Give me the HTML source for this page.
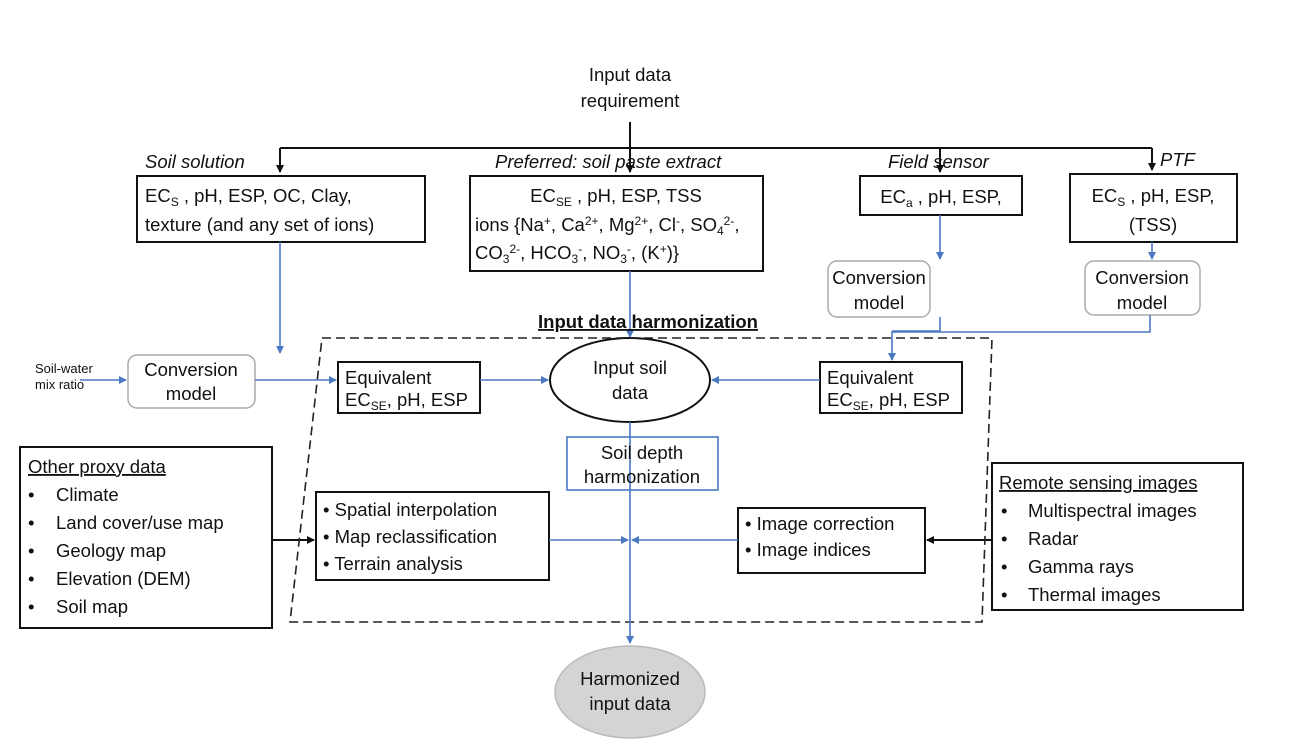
<!DOCTYPE html>
<html><head><meta charset="utf-8"><style>
html,body{margin:0;padding:0;background:#fff;}
svg{display:block;}
text{font-family:"Liberation Sans",sans-serif;font-size:18.5px;fill:#111;}
.it{font-style:italic;}
.sm{font-size:13px;}
.sub{font-size:12px;}
</style></head><body>
<svg width="1295" height="752" viewBox="0 0 1295 752" xmlns="http://www.w3.org/2000/svg">
<defs>
<marker id="ak" markerWidth="8" markerHeight="8" refX="7" refY="4" orient="auto" markerUnits="userSpaceOnUse"><path d="M0,0 L8,4 L0,8 z" fill="#111"/></marker>
<marker id="ab" markerWidth="8" markerHeight="8" refX="7" refY="4" orient="auto" markerUnits="userSpaceOnUse"><path d="M0,0 L8,4 L0,8 z" fill="#4a78c2"/></marker>
</defs>
<g fill="none" stroke="#111" stroke-width="2">
<line x1="630" y1="122" x2="630" y2="148"/>
<line x1="280" y1="148" x2="1152" y2="148"/>
<line x1="280" y1="148" x2="280" y2="172" marker-end="url(#ak)"/>
<line x1="630" y1="148" x2="630" y2="172" marker-end="url(#ak)"/>
<line x1="940" y1="148" x2="940" y2="172" marker-end="url(#ak)"/>
<line x1="1152" y1="148" x2="1152" y2="170" marker-end="url(#ak)"/>
<rect x="137" y="176" width="288" height="66"/>
<rect x="470" y="176" width="293" height="95"/>
<rect x="860" y="176" width="162" height="39"/>
<rect x="1070" y="174" width="167" height="68"/>
<rect x="338" y="362" width="142" height="51"/>
<rect x="820" y="362" width="142" height="51"/>
<ellipse cx="630" cy="380" rx="80" ry="42"/>
<rect x="316" y="492" width="233" height="88"/>
<rect x="738" y="508" width="187" height="65"/>
<rect x="20" y="447" width="252" height="181"/>
<rect x="992" y="463" width="251" height="147"/>
<line x1="272" y1="540" x2="314" y2="540" marker-end="url(#ak)"/>
<line x1="992" y1="540" x2="927" y2="540" marker-end="url(#ak)"/>
</g>
<g fill="none" stroke="#aaa" stroke-width="1.5">
<rect x="128" y="355" width="127" height="53" rx="9"/>
<rect x="828" y="261" width="102" height="56" rx="9"/>
<rect x="1085" y="261" width="115" height="54" rx="9"/>
</g>
<path d="M322,338 L992,338 L982,622 L290,622 Z" fill="none" stroke="#222" stroke-width="1.6" stroke-dasharray="9,5"/>
<g fill="none" stroke="#4a78c2" stroke-width="1.6">
<rect x="567" y="437" width="151" height="53"/>
<line x1="280" y1="242" x2="280" y2="353" marker-end="url(#ab)"/>
<line x1="630" y1="271" x2="630" y2="337" marker-end="url(#ab)"/>
<line x1="940" y1="215" x2="940" y2="259" marker-end="url(#ab)"/>
<line x1="1152" y1="242" x2="1152" y2="259" marker-end="url(#ab)"/>
<polyline points="940,317 940,331 892,331"/>
<polyline points="1150,315 1150,332 892,332 892,360" marker-end="url(#ab)"/>
<line x1="80" y1="380" x2="126" y2="380" marker-end="url(#ab)"/>
<line x1="255" y1="380" x2="336" y2="380" marker-end="url(#ab)"/>
<line x1="480" y1="380" x2="548" y2="380" marker-end="url(#ab)"/>
<line x1="820" y1="380" x2="712" y2="380" marker-end="url(#ab)"/>
<line x1="630" y1="422" x2="630" y2="643" marker-end="url(#ab)"/>
<line x1="549" y1="540" x2="628" y2="540" marker-end="url(#ab)"/>
<line x1="738" y1="540" x2="632" y2="540" marker-end="url(#ab)"/>
</g>
<ellipse cx="630" cy="692" rx="75" ry="46" fill="#d4d4d4" stroke="#bbb" stroke-width="1.5"/>

<text x="630" y="81" text-anchor="middle">Input data</text>
<text x="630" y="107" text-anchor="middle">requirement</text>
<text x="145" y="168" class="it">Soil solution</text>
<text x="495" y="168" class="it">Preferred: soil paste extract</text>
<text x="888" y="168" class="it">Field sensor</text>
<text x="1160" y="166" class="it">PTF</text>

<text x="145" y="202">EC<tspan class="sub" dy="4">S</tspan><tspan dy="-4"> , pH, ESP, OC, Clay,</tspan></text>
<text x="145" y="231">texture (and any set of ions)</text>
<text x="616" y="202" text-anchor="middle">EC<tspan class="sub" dy="4">SE</tspan><tspan dy="-4"> , pH, ESP, TSS</tspan></text>
<text x="475" y="231">ions {Na<tspan class="sub" dy="-6">+</tspan><tspan dy="6">, Ca</tspan><tspan class="sub" dy="-6">2+</tspan><tspan dy="6">, Mg</tspan><tspan class="sub" dy="-6">2+</tspan><tspan dy="6">, Cl</tspan><tspan class="sub" dy="-6">-</tspan><tspan dy="6">, SO</tspan><tspan class="sub" dy="4">4</tspan><tspan class="sub" dy="-10">2-</tspan><tspan dy="6">,</tspan></text>
<text x="475" y="259">CO<tspan class="sub" dy="4">3</tspan><tspan class="sub" dy="-10">2-</tspan><tspan dy="6">, HCO</tspan><tspan class="sub" dy="4">3</tspan><tspan class="sub" dy="-10">-</tspan><tspan dy="6">, NO</tspan><tspan class="sub" dy="4">3</tspan><tspan class="sub" dy="-10">-</tspan><tspan dy="6">, (K</tspan><tspan class="sub" dy="-6">+</tspan><tspan dy="6">)}</tspan></text>
<text x="941" y="203" text-anchor="middle">EC<tspan class="sub" dy="4">a</tspan><tspan dy="-4"> , pH, ESP,</tspan></text>
<text x="1153" y="202" text-anchor="middle">EC<tspan class="sub" dy="4">S</tspan><tspan dy="-4"> , pH, ESP,</tspan></text>
<text x="1153" y="231" text-anchor="middle">(TSS)</text>

<text x="879" y="284" text-anchor="middle">Conversion</text>
<text x="879" y="309" text-anchor="middle">model</text>
<text x="1142" y="284" text-anchor="middle">Conversion</text>
<text x="1142" y="309" text-anchor="middle">model</text>
<text x="191" y="376" text-anchor="middle">Conversion</text>
<text x="191" y="400" text-anchor="middle">model</text>
<text x="35" y="373" class="sm">Soil-water</text>
<text x="35" y="389" class="sm">mix ratio</text>

<text x="648" y="328" text-anchor="middle" font-weight="bold" text-decoration="underline">Input data harmonization</text>

<text x="345" y="384">Equivalent</text>
<text x="345" y="406">EC<tspan class="sub" dy="4">SE</tspan><tspan dy="-4">, pH, ESP</tspan></text>
<text x="827" y="384">Equivalent</text>
<text x="827" y="406">EC<tspan class="sub" dy="4">SE</tspan><tspan dy="-4">, pH, ESP</tspan></text>
<text x="630" y="374" text-anchor="middle">Input soil</text>
<text x="630" y="399" text-anchor="middle">data</text>
<text x="642" y="459" text-anchor="middle">Soil depth</text>
<text x="642" y="483" text-anchor="middle">harmonization</text>

<text x="323" y="516">• Spatial interpolation</text>
<text x="323" y="543">• Map reclassification</text>
<text x="323" y="570">• Terrain analysis</text>
<text x="745" y="530">• Image correction</text>
<text x="745" y="556">• Image indices</text>

<text x="28" y="473" text-decoration="underline">Other proxy data</text>
<text x="28" y="501">•</text><text x="56" y="501">Climate</text>
<text x="28" y="529">•</text><text x="56" y="529">Land cover/use map</text>
<text x="28" y="557">•</text><text x="56" y="557">Geology map</text>
<text x="28" y="585">•</text><text x="56" y="585">Elevation (DEM)</text>
<text x="28" y="613">•</text><text x="56" y="613">Soil map</text>

<text x="999" y="489" text-decoration="underline">Remote sensing images</text>
<text x="1001" y="517">•</text><text x="1028" y="517">Multispectral images</text>
<text x="1001" y="545">•</text><text x="1028" y="545">Radar</text>
<text x="1001" y="573">•</text><text x="1028" y="573">Gamma rays</text>
<text x="1001" y="601">•</text><text x="1028" y="601">Thermal images</text>

<text x="630" y="685" text-anchor="middle">Harmonized</text>
<text x="630" y="710" text-anchor="middle">input data</text>
</svg>
</body></html>
